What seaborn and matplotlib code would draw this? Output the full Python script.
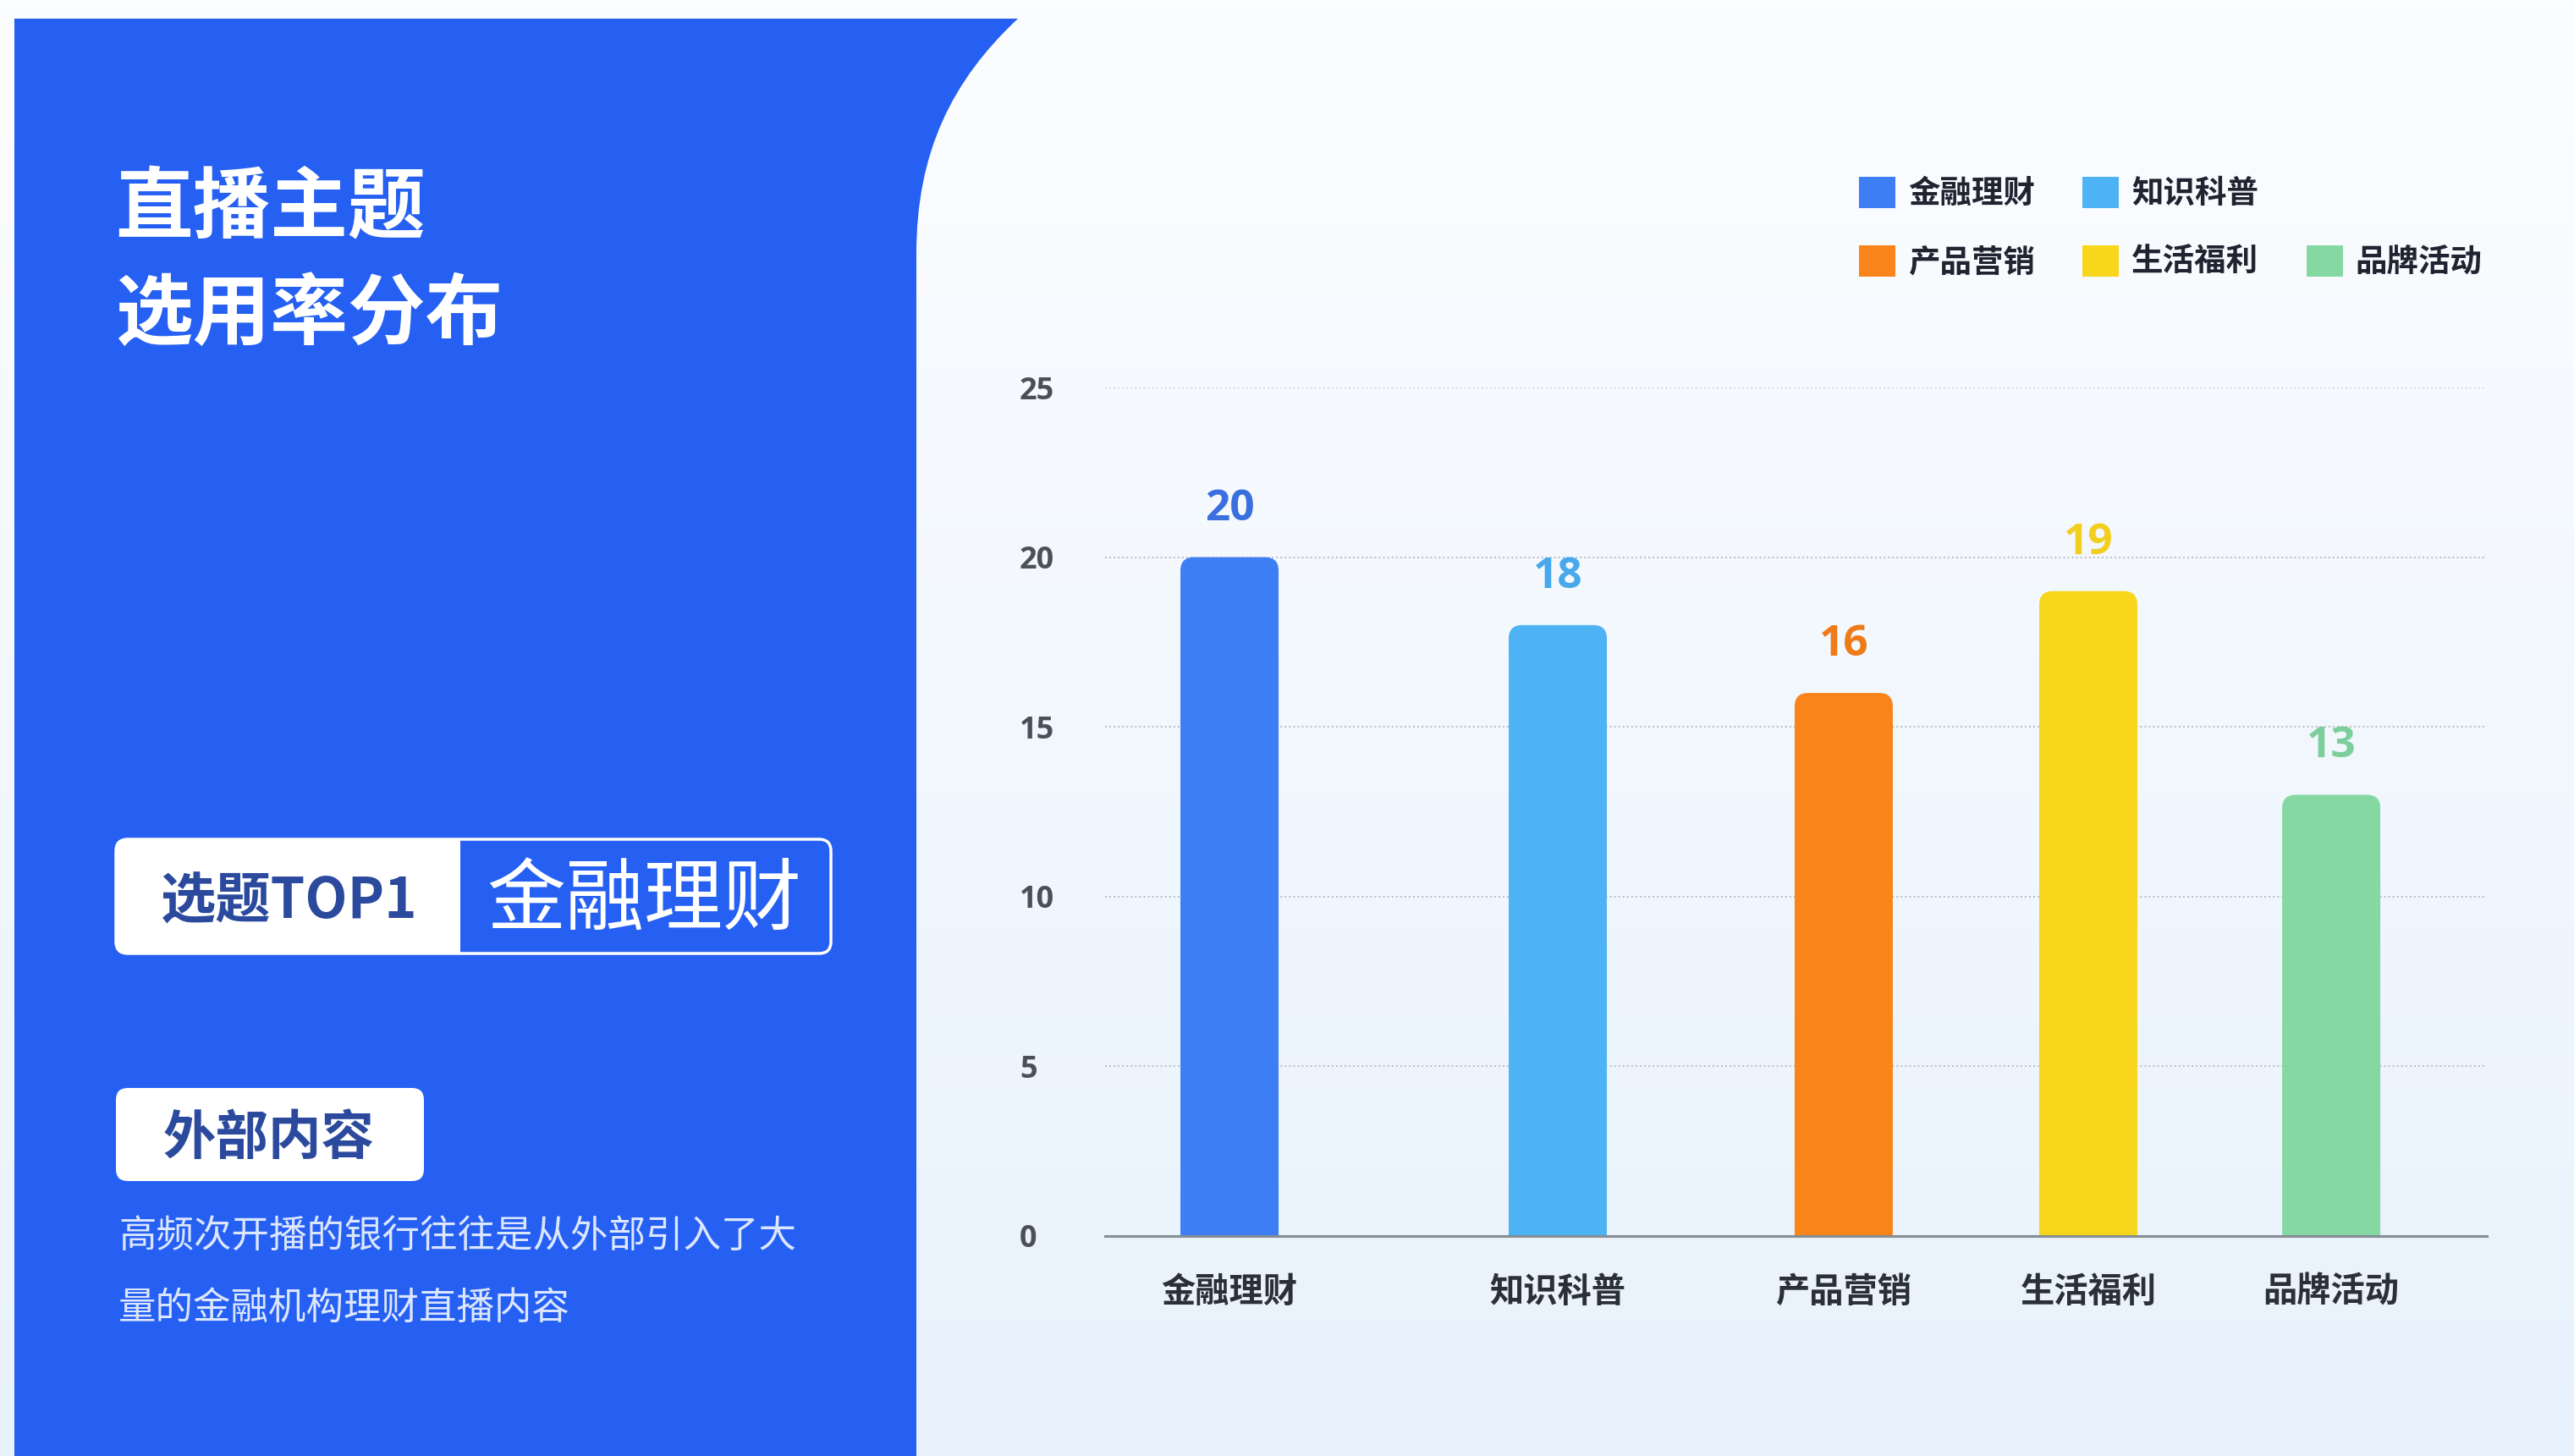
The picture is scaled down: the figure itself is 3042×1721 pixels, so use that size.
import numpy as np
import pandas as pd
import matplotlib
matplotlib.use("Agg")
import matplotlib.pyplot as plt
import seaborn as sns
from matplotlib.patches import FancyBboxPatch, PathPatch, Patch
from matplotlib.path import Path

# ---- data ----
categories = ["金融理财", "知识科普", "产品营销", "生活福利", "品牌活动"]
values = [20, 18, 16, 19, 13]
bar_colors = ["#3D7EF5", "#4DB3F4", "#F9841A", "#F8D61C", "#86D8A3"]
label_colors = ["#3A6FE0", "#47A8EC", "#EE7A18", "#F2CE1E", "#7CCF9B"]
y_ticks = [0, 5, 10, 15, 20, 25]

title_lines = ["直播主题", "选用率分布"]
top_tag = "选题TOP1"
top_topic = "金融理财"
note_tag = "外部内容"
note_lines = ["高频次开播的银行往往是从外部引入了大", "量的金融机构理财直播内容"]

# ---- layout ----
W, H = 3042, 1721
DPI = 100
slots = [0.0, 1.0, 1.871, 2.616, 3.356]   # bar centres on the x axis
bar_w = 0.299

PANEL_BLUE = "#2660F2"
TAG_TEXT = "#2B4A9E"

sns.set_style("white")
plt.rcParams["font.family"] = ["Noto Sans CJK SC", "DejaVu Sans"]

fig = plt.figure(figsize=(W / DPI, H / DPI), dpi=DPI)

# ---- background layer (pixel coordinates) ----
bg = fig.add_axes([0, 0, 1, 1], zorder=0)
bg.set_xlim(0, W)
bg.set_ylim(H, 0)
bg.axis("off")

top = np.array([252, 253, 255]) / 255
bottom = np.array([232, 242, 252]) / 255
t = np.linspace(0, 1, 256)[:, None, None]
grad = top * (1 - t) + bottom * t
grad = np.repeat(grad, 4, axis=1)
bg.imshow(grad, extent=[0, W, H, 0], aspect="auto", zorder=0)

# blue side panel with curved right edge
verts = [(17, 22), (1203, 22),
         (1125, 95), (1083, 180), (1083, 300),
         (1083, H), (17, H), (17, 22)]
codes = [Path.MOVETO, Path.LINETO,
         Path.CURVE4, Path.CURVE4, Path.CURVE4,
         Path.LINETO, Path.LINETO, Path.CLOSEPOLY]
bg.add_patch(PathPatch(Path(verts, codes), facecolor=PANEL_BLUE, edgecolor="none", zorder=1))

# title
for i, line in enumerate(title_lines):
    bg.text(136, 247 + i * 126, line, color="white", fontsize=66, fontweight="bold",
            ha="left", va="center", zorder=3)

# "TOP1" tag box
bg.add_patch(FancyBboxPatch((137, 992), 845, 135,
                            boxstyle="round,pad=0,rounding_size=14",
                            facecolor="none", edgecolor="white", linewidth=2.5, zorder=2))
bg.add_patch(FancyBboxPatch((137, 992), 407, 135,
                            boxstyle="round,pad=0,rounding_size=14",
                            facecolor="white", edgecolor="none", zorder=2))
bg.add_patch(plt.Rectangle((500, 992), 44, 135, facecolor="white", edgecolor="none", zorder=2))
bg.text(342, 1066, top_tag, color=TAG_TEXT, fontsize=47, fontweight="bold",
        ha="center", va="center", zorder=3)
bg.text(761, 1066, top_topic, color="white", fontsize=67,
        ha="center", va="center", zorder=3)

# note tag and paragraph
bg.add_patch(FancyBboxPatch((137, 1286), 364, 110,
                            boxstyle="round,pad=0,rounding_size=14",
                            facecolor="white", edgecolor="none", zorder=2))
bg.text(318, 1345, note_tag, color=TAG_TEXT, fontsize=45, fontweight="bold",
        ha="center", va="center", zorder=3)
for i, line in enumerate(note_lines):
    bg.text(140, 1461 + i * 85, line, color="#DCE6FF", fontsize=32,
            ha="left", va="center", zorder=3)

# ---- bar chart ----
ax = fig.add_axes([1306 / W, 1 - 1461 / H, (2939 - 1306) / W, (1461 - 458) / H], zorder=2)
ax.set_facecolor("none")

df = pd.DataFrame({"slot": slots, "value": values, "topic": categories})
min_gap = float(np.min(np.diff(slots)))
sns.barplot(data=df, x="slot", y="value", hue="topic", hue_order=categories,
            palette=dict(zip(categories, bar_colors)), native_scale=True, dodge=False,
            width=bar_w / min_gap, saturation=1, linewidth=0, legend=False, ax=ax)

ax.set_xlim(-0.379, 3.830)
ax.set_ylim(0, 25)

# round the top corners of each bar
fig.canvas.draw()
px_x = ax.transData.transform((1, 0))[0] - ax.transData.transform((0, 0))[0]
px_y = ax.transData.transform((0, 1))[1] - ax.transData.transform((0, 0))[1]
radius_px = 16
rx = radius_px / px_x
aspect = px_x / px_y
for rect in list(ax.patches):
    x0, w, h = rect.get_x(), rect.get_width(), rect.get_height()
    color = rect.get_facecolor()
    rect.remove()
    ry = radius_px / px_y
    ax.add_patch(FancyBboxPatch((x0, -ry), w, h + ry,
                                boxstyle=f"round,pad=0,rounding_size={rx}",
                                mutation_aspect=aspect,
                                facecolor=color, edgecolor="none", zorder=3))

# value labels above bars
for s, v, c in zip(slots, values, label_colors):
    ax.annotate(f"{v}", (s, v), xytext=(0, 41), textcoords="offset points",
                ha="center", va="center", fontsize=37, fontweight="bold",
                color=c, family=["Open Sans", "DejaVu Sans"], zorder=4)

# axes styling
ax.set_yticks(y_ticks)
ax.set_yticklabels([str(v) for v in y_ticks])
ax.set_xticks(slots)
ax.set_xticklabels(categories)
ax.set_xlabel("")
ax.set_ylabel("")
ax.tick_params(axis="y", length=0, pad=72.7, labelsize=26, labelcolor="#4A4F58")
ax.tick_params(axis="x", length=0, pad=33, labelsize=29, labelcolor="#2B2F36")
for lab in ax.get_yticklabels():
    lab.set_horizontalalignment("left")
    lab.set_family(["Open Sans", "DejaVu Sans"])
    lab.set_fontweight("bold")
for lab in ax.get_xticklabels():
    lab.set_fontweight("bold")

for side in ["top", "right", "left"]:
    ax.spines[side].set_visible(False)
ax.spines["bottom"].set_color("#858D95")
ax.spines["bottom"].set_linewidth(2.2)
ax.spines["bottom"].set_zorder(5)

ax.yaxis.grid(True, linestyle=(0, (1, 1.6)), color="#B8BEC6", linewidth=1.4)
ax.xaxis.grid(False)
ax.set_axisbelow(True)

# legend: two rows, last entry in the lower right
handles = [Patch(facecolor=c, edgecolor="none") for c in bar_colors]
blank = Patch(facecolor="none", edgecolor="none")
order_h = [handles[0], handles[2], handles[1], handles[3], blank, handles[4]]
order_l = [categories[0], categories[2], categories[1], categories[3], "", categories[4]]
fig.legend(order_h, order_l, ncol=3, loc="upper left",
           bbox_to_anchor=(2178 / W, 1 - 190 / H), frameon=False, borderpad=0,
           handlelength=1.15, handleheight=1.15, handletextpad=0.4,
           columnspacing=1.5, labelspacing=1.12,
           prop={"family": ["Noto Sans CJK SC", "DejaVu Sans"], "weight": "bold", "size": 27},
           labelcolor="#1F2430")

fig.savefig("out.png", dpi=DPI)
